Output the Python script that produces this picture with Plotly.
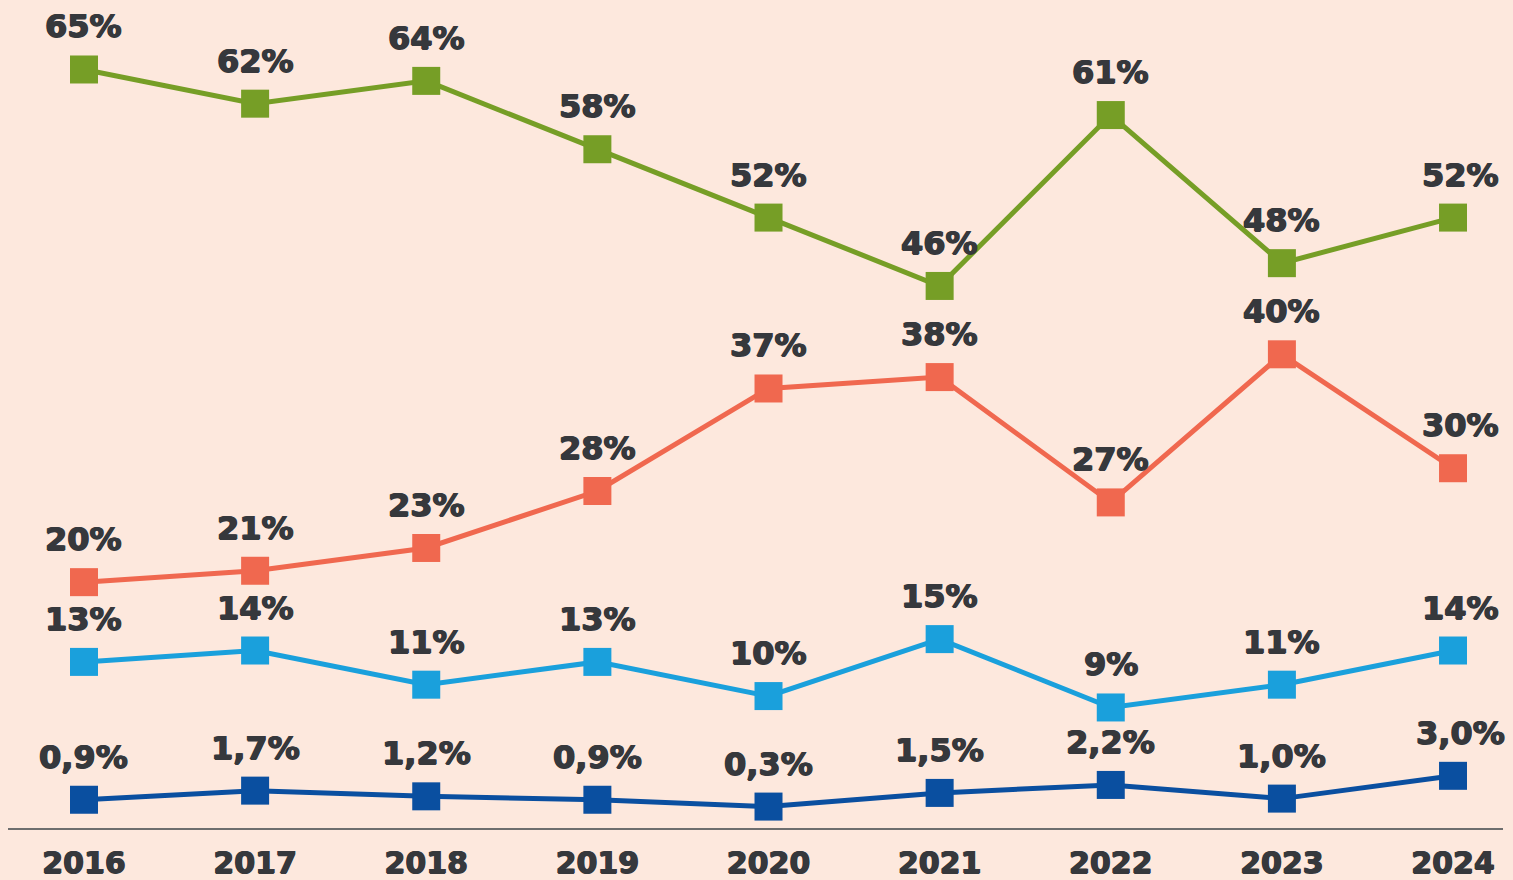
import plotly.graph_objects as go

years = [2016, 2017, 2018, 2019, 2020, 2021, 2022, 2023, 2024]
green = [65, 62, 64, 58, 52, 46, 61, 48, 52]
red = [20, 21, 23, 28, 37, 38, 27, 40, 30]
light_blue = [13, 14, 11, 13, 10, 15, 9, 11, 14]
dark_blue = [0.9, 1.7, 1.2, 0.9, 0.3, 1.5, 2.2, 1.0, 3.0]

series = [
    (green, "#769e26", "{:.0f}%"),
    (red, "#f0684f", "{:.0f}%"),
    (light_blue, "#1aa0dc", "{:.0f}%"),
    (dark_blue, "#0a4fa0", "{:.1f}%"),
]

BG = "#fde8dd"
TXT = "#36383c"
FONT = "DejaVu Sans"
THICK = "0.7px 0 0 %s, -0.7px 0 0 %s, 0 0.5px 0 %s" % (TXT, TXT, TXT)

fig = go.Figure()
annotations = []
for vals, color, fmt in series:
    fig.add_trace(go.Scatter(
        x=years, y=vals, mode="lines+markers",
        line=dict(color=color, width=5),
        marker=dict(symbol="square", size=28, color=color),
        hoverinfo="skip", showlegend=False, cliponaxis=False,
    ))
    for i, (xv, yv) in enumerate(zip(years, vals)):
        annotations.append(dict(
            x=xv, y=yv, xref="x", yref="y",
            text="<b>" + fmt.format(yv).replace(".", ",") + "</b>",
            showarrow=False, yshift=43, xshift=7 if xv == 2024 else 0,
            font=dict(family=FONT, size=32, color=TXT, shadow=THICK),
        ))

fig.update_layout(
    width=1513, height=880,
    paper_bgcolor=BG, plot_bgcolor=BG,
    margin=dict(l=8, r=10, t=0, b=52),
    annotations=annotations,
    xaxis=dict(
        range=[2015.556, 2024.292], tickmode="array", tickvals=years,
        ticktext=["<b>%d</b>" % y for y in years],
        showgrid=False, zeroline=False, showline=True,
        linecolor="#6e6e6e", linewidth=2, ticks="",
        ticklabelstandoff=7,
        tickfont=dict(family=FONT, size=30, color=TXT, shadow=THICK),
        fixedrange=True,
    ),
    yaxis=dict(
        range=[-1.58, 71.1], visible=False, showgrid=False, zeroline=False,
        fixedrange=True,
    ),
)

fig.write_html(
    "out.html",
    config={"displayModeBar": False, "staticPlot": True},
    post_script="document.body.style.margin='0';document.body.style.background='%s';" % BG,
)
